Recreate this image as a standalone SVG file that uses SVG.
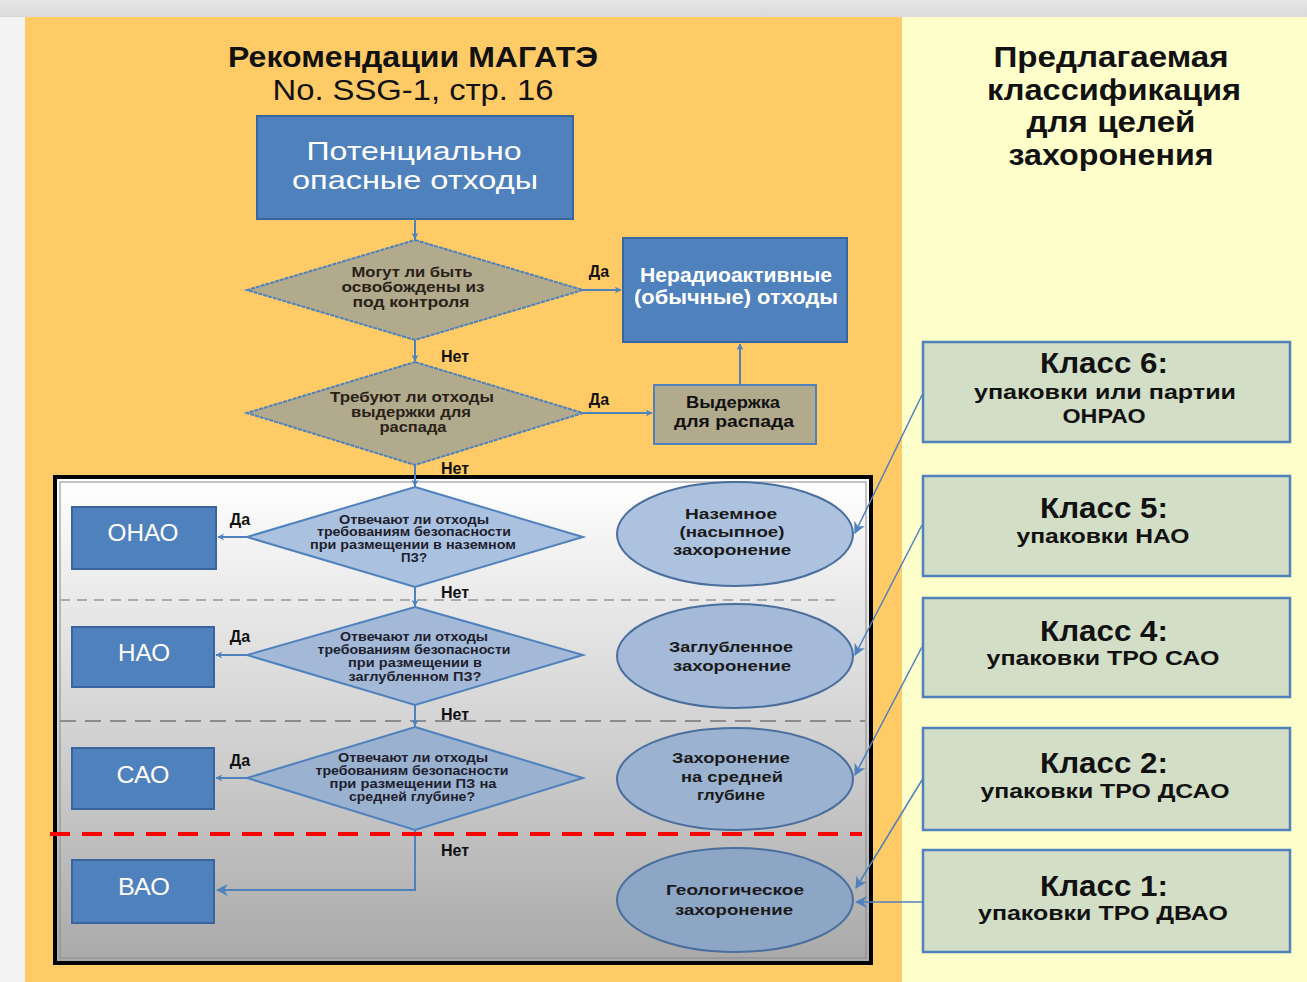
<svg xmlns="http://www.w3.org/2000/svg" width="1307" height="982" viewBox="0 0 1307 982">
<defs>
<style>
text{font-family:"Liberation Sans","DejaVu Sans",sans-serif;text-anchor:middle}
.title{font-size:30px;font-weight:bold;fill:#111}
.titler{font-size:30px;fill:#111}
.bw{fill:#fff}
.blue{fill:#4F81BD;stroke:#3A64A0;stroke-width:2}
.kh{fill:#B1AA8C;stroke:#4F81BD;stroke-width:2}
.q1{font-size:14px;font-weight:bold;fill:#2a2218}
.q{font-size:12.5px;font-weight:bold;fill:#1e1e2e}
.lab{font-size:16px;font-weight:bold;fill:#111}
.ell{stroke:#4A6E9E;stroke-width:2}
.et{font-size:15.5px;font-weight:bold;fill:#1a1a1a}
.cls{fill:#D3DEC6;stroke:#4F81BD;stroke-width:2.5}
.ch{font-size:29px;font-weight:bold;fill:#111}
.cs{font-size:20px;font-weight:bold;fill:#111}
.con{stroke:#4F81BD;stroke-width:2;fill:none}
.cl{stroke:#4F81BD;stroke-width:1.5;fill:none}
</style>
<marker id="ah" viewBox="0 0 10 10" refX="9" refY="5" markerWidth="7" markerHeight="7" orient="auto" markerUnits="userSpaceOnUse">
<path d="M0,0 L10,5 L0,10 L3,5 z" fill="#4F81BD"/>
</marker>
<marker id="ah2" viewBox="0 0 10 10" refX="9" refY="5" markerWidth="12" markerHeight="12" orient="auto" markerUnits="userSpaceOnUse">
<path d="M0,0 L10,5 L0,10 L3,5 z" fill="#4F81BD"/>
</marker>
<linearGradient id="boxg" x1="0" y1="0" x2="0" y2="1">
<stop offset="0" stop-color="#FFFFFF"/>
<stop offset="1" stop-color="#A9A9A9"/>
</linearGradient>
<linearGradient id="topg" x1="0" y1="0" x2="0" y2="1">
<stop offset="0" stop-color="#E6E6E6"/>
<stop offset="1" stop-color="#DADADA"/>
</linearGradient>
</defs>

<g id="background">
<rect x="0" y="0" width="1307" height="982" fill="#F4F4F4"/>
<rect x="0" y="0" width="1307" height="17" fill="url(#topg)"/>
<rect x="25" y="17" width="877" height="965" fill="#FECB66"/>
<rect x="902" y="17" width="405" height="965" fill="#FFFFCC"/>
</g>

<g id="titles">
<text class="title" x="413" y="67" textLength="370" lengthAdjust="spacingAndGlyphs">Рекомендации МАГАТЭ</text>
<text class="titler" x="413" y="100" textLength="281" lengthAdjust="spacingAndGlyphs">No. SSG-1, стр. 16</text>
<text class="title" x="1111" y="67" textLength="235" lengthAdjust="spacingAndGlyphs">Предлагаемая</text>
<text class="title" x="1114" y="100" textLength="254" lengthAdjust="spacingAndGlyphs">классификация</text>
<text class="title" x="1111" y="132" textLength="169" lengthAdjust="spacingAndGlyphs">для целей</text>
<text class="title" x="1111" y="165" textLength="205" lengthAdjust="spacingAndGlyphs">захоронения</text>
</g>

<g id="main-box">
<rect x="55" y="477" width="816" height="486" fill="url(#boxg)" stroke="#000" stroke-width="4"/>
<rect x="60" y="482" width="806" height="476" fill="none" stroke="#8A8A8A" stroke-width="1"/>
</g>

<g id="separators">
<line x1="60" y1="600" x2="835" y2="600" stroke="#ABABAB" stroke-width="2" stroke-dasharray="10 7"/>
<line x1="60" y1="721" x2="865" y2="721" stroke="#8C8C8C" stroke-width="2" stroke-dasharray="16 9"/>
</g>

<g id="n-potential">
<rect class="blue" x="257" y="116" width="316" height="103"/>
<text class="bw" x="414" y="160" font-size="26" textLength="215" lengthAdjust="spacingAndGlyphs">Потенциально</text>
<text class="bw" x="415" y="189" font-size="26" textLength="246" lengthAdjust="spacingAndGlyphs">опасные отходы</text>
</g>

<g id="n-q1">
<polygon class="kh" points="415,240 583,290 415,340 247,290" stroke-dasharray="4 1"/>
<text class="q1" x="412" y="277" textLength="121" lengthAdjust="spacingAndGlyphs">Могут ли быть</text>
<text class="q1" x="413" y="292" textLength="143" lengthAdjust="spacingAndGlyphs">освобождены из</text>
<text class="q1" x="411" y="307" textLength="117" lengthAdjust="spacingAndGlyphs">под контроля</text>
</g>

<g id="n-nonrad">
<rect class="blue" x="623" y="238" width="224" height="104"/>
<text class="bw" x="736" y="282" font-size="20" font-weight="bold" textLength="192" lengthAdjust="spacingAndGlyphs">Нерадиоактивные</text>
<text class="bw" x="736" y="304" font-size="20" font-weight="bold" textLength="204" lengthAdjust="spacingAndGlyphs">(обычные) отходы</text>
</g>

<g id="n-q2">
<polygon class="kh" points="415,362 583,413 415,465 247,413" stroke-dasharray="4 1"/>
<text class="q1" x="412" y="402" textLength="164" lengthAdjust="spacingAndGlyphs">Требуют ли отходы</text>
<text class="q1" x="411" y="417" textLength="120" lengthAdjust="spacingAndGlyphs">выдержки для</text>
<text class="q1" x="413" y="432" textLength="67" lengthAdjust="spacingAndGlyphs">распада</text>
</g>

<g id="n-decay">
<rect class="kh" x="654" y="385" width="162" height="59"/>
<text x="733" y="408" font-size="16" font-weight="bold" fill="#111" textLength="94" lengthAdjust="spacingAndGlyphs">Выдержка</text>
<text x="734" y="427" font-size="16" font-weight="bold" fill="#111" textLength="120" lengthAdjust="spacingAndGlyphs">для  распада</text>
</g>

<g id="n-q3">
<polygon points="415,487 583,537 415,587 247,537" fill="#AAC1DF" stroke="#4F81BD" stroke-width="2"/>
<text class="q" x="414" y="524" textLength="150" lengthAdjust="spacingAndGlyphs">Отвечают  ли отходы</text>
<text class="q" x="414" y="536" textLength="194" lengthAdjust="spacingAndGlyphs">требованиям  безопасности</text>
<text class="q" x="413" y="549" textLength="206" lengthAdjust="spacingAndGlyphs">при размещении  в наземном</text>
<text class="q" x="414" y="562" textLength="26" lengthAdjust="spacingAndGlyphs">ПЗ?</text>
</g>

<g id="n-q4">
<polygon points="415,607 583,655 415,705 247,655" fill="#A3B9D7" stroke="#4F81BD" stroke-width="2"/>
<text class="q" x="414" y="641" textLength="148" lengthAdjust="spacingAndGlyphs">Отвечают  ли отходы</text>
<text class="q" x="414" y="654" textLength="193" lengthAdjust="spacingAndGlyphs">требованиям  безопасности</text>
<text class="q" x="415" y="667" textLength="134" lengthAdjust="spacingAndGlyphs">при размещении  в</text>
<text class="q" x="415" y="681" textLength="133" lengthAdjust="spacingAndGlyphs">заглубленном  ПЗ?</text>
</g>

<g id="n-q5">
<polygon points="415,727 583,778 415,830 247,778" fill="#9AB1CF" stroke="#4F81BD" stroke-width="2"/>
<text class="q" x="413" y="762" textLength="150" lengthAdjust="spacingAndGlyphs">Отвечают  ли отходы</text>
<text class="q" x="412" y="775" textLength="193" lengthAdjust="spacingAndGlyphs">требованиям  безопасности</text>
<text class="q" x="413" y="788" textLength="167" lengthAdjust="spacingAndGlyphs">при размещении  ПЗ на</text>
<text class="q" x="412" y="801" textLength="126" lengthAdjust="spacingAndGlyphs">средней  глубине?</text>
</g>

<g id="n-onao">
<rect class="blue" x="72" y="507" width="144" height="62"/>
<text class="bw" x="143" y="541" font-size="24" textLength="71" lengthAdjust="spacingAndGlyphs">ОНАО</text>
</g>
<g id="n-nao">
<rect class="blue" x="72" y="627" width="142" height="60"/>
<text class="bw" x="144" y="661" font-size="24" textLength="52" lengthAdjust="spacingAndGlyphs">НАО</text>
</g>
<g id="n-sao">
<rect class="blue" x="72" y="748" width="142" height="61"/>
<text class="bw" x="143" y="783" font-size="24" textLength="53" lengthAdjust="spacingAndGlyphs">САО</text>
</g>
<g id="n-vao">
<rect class="blue" x="72" y="860" width="142" height="63"/>
<text class="bw" x="144" y="895" font-size="24" textLength="52" lengthAdjust="spacingAndGlyphs">ВАО</text>
</g>

<g id="n-e1">
<ellipse class="ell" cx="735" cy="534" rx="118" ry="52" fill="#ADC2DF"/>
<text class="et" x="731" y="519" textLength="92" lengthAdjust="spacingAndGlyphs">Наземное</text>
<text class="et" x="732" y="537" textLength="105" lengthAdjust="spacingAndGlyphs">(насыпное)</text>
<text class="et" x="732" y="555" textLength="118" lengthAdjust="spacingAndGlyphs">захоронение</text>
</g>
<g id="n-e2">
<ellipse class="ell" cx="735" cy="656" rx="118" ry="52" fill="#A4BAD8"/>
<text class="et" x="731" y="652" textLength="124" lengthAdjust="spacingAndGlyphs">Заглубленное</text>
<text class="et" x="732" y="671" textLength="118" lengthAdjust="spacingAndGlyphs">захоронение</text>
</g>
<g id="n-e3">
<ellipse class="ell" cx="735" cy="779" rx="118" ry="51" fill="#9BB2D0"/>
<text class="et" x="731" y="763" textLength="118" lengthAdjust="spacingAndGlyphs">Захоронение</text>
<text class="et" x="732" y="782" textLength="102" lengthAdjust="spacingAndGlyphs">на  средней</text>
<text class="et" x="731" y="800" textLength="68" lengthAdjust="spacingAndGlyphs">глубине</text>
</g>
<g id="n-e4">
<ellipse class="ell" cx="735" cy="900" rx="118" ry="52" fill="#8EA6C5"/>
<text class="et" x="735" y="895" textLength="138" lengthAdjust="spacingAndGlyphs">Геологическое</text>
<text class="et" x="734" y="915" textLength="118" lengthAdjust="spacingAndGlyphs">захоронение</text>
</g>

<g id="n-class6">
<rect class="cls" x="923" y="342" width="367" height="100"/>
<text class="ch" x="1104" y="373" textLength="128" lengthAdjust="spacingAndGlyphs">Класс 6:</text>
<text class="cs" x="1105" y="399" textLength="262" lengthAdjust="spacingAndGlyphs">упаковки или партии</text>
<text class="cs" x="1104" y="423" textLength="83" lengthAdjust="spacingAndGlyphs">ОНРАО</text>
</g>
<g id="n-class5">
<rect class="cls" x="923" y="476" width="367" height="100"/>
<text class="ch" x="1104" y="518" textLength="128" lengthAdjust="spacingAndGlyphs">Класс 5:</text>
<text class="cs" x="1103" y="543" textLength="173" lengthAdjust="spacingAndGlyphs">упаковки НАО</text>
</g>
<g id="n-class4">
<rect class="cls" x="923" y="598" width="367" height="99"/>
<text class="ch" x="1104" y="641" textLength="128" lengthAdjust="spacingAndGlyphs">Класс 4:</text>
<text class="cs" x="1103" y="665" textLength="233" lengthAdjust="spacingAndGlyphs">упаковки ТРО  САО</text>
</g>
<g id="n-class2">
<rect class="cls" x="923" y="728" width="367" height="102"/>
<text class="ch" x="1104" y="773" textLength="128" lengthAdjust="spacingAndGlyphs">Класс 2:</text>
<text class="cs" x="1105" y="798" textLength="249" lengthAdjust="spacingAndGlyphs">упаковки ТРО  ДСАО</text>
</g>
<g id="n-class1">
<rect class="cls" x="923" y="850" width="367" height="102"/>
<text class="ch" x="1104" y="896" textLength="128" lengthAdjust="spacingAndGlyphs">Класс 1:</text>
<text class="cs" x="1103" y="920" textLength="250" lengthAdjust="spacingAndGlyphs">упаковки ТРО  ДВАО</text>
</g>

<g id="connectors">
<line class="con" x1="415" y1="219" x2="415" y2="239" marker-end="url(#ah)"/>
<line class="con" x1="583" y1="290" x2="621" y2="290" marker-end="url(#ah)"/>
<line class="con" x1="415" y1="340" x2="415" y2="361" marker-end="url(#ah)"/>
<line class="con" x1="583" y1="413" x2="652" y2="413" marker-end="url(#ah)"/>
<line class="con" x1="740" y1="385" x2="740" y2="344" marker-end="url(#ah)"/>
<line class="con" x1="415" y1="465" x2="415" y2="486" marker-end="url(#ah)"/>
<line class="con" x1="247" y1="537" x2="218" y2="537" marker-end="url(#ah)"/>
<line class="con" x1="415" y1="587" x2="415" y2="606" marker-end="url(#ah)"/>
<line class="con" x1="247" y1="655" x2="216" y2="655" marker-end="url(#ah)"/>
<line class="con" x1="415" y1="705" x2="415" y2="726" marker-end="url(#ah)"/>
<line class="con" x1="247" y1="778" x2="216" y2="778" marker-end="url(#ah)"/>
<polyline class="con" points="415,830 415,890 217,890" stroke="#6E95C8" stroke-width="2.5" marker-end="url(#ah2)"/>
<line class="cl" x1="922" y1="395" x2="855" y2="533" marker-end="url(#ah2)"/>
<line class="cl" x1="922" y1="525" x2="855" y2="655" marker-end="url(#ah2)"/>
<line class="cl" x1="922" y1="647" x2="855" y2="775" marker-end="url(#ah2)"/>
<line class="cl" x1="922" y1="780" x2="856" y2="888" marker-end="url(#ah2)"/>
<line class="cl" x1="922" y1="902" x2="856" y2="902" marker-end="url(#ah2)"/>
</g>

<g id="labels">
<text class="lab" x="599" y="277">Да</text>
<text class="lab" x="599" y="405">Да</text>
<text class="lab" x="240" y="525">Да</text>
<text class="lab" x="240" y="642">Да</text>
<text class="lab" x="240" y="766">Да</text>
<text class="lab" x="455" y="362">Нет</text>
<text class="lab" x="455" y="474">Нет</text>
<text class="lab" x="455" y="598">Нет</text>
<text class="lab" x="455" y="720">Нет</text>
<text class="lab" x="455" y="856">Нет</text>
</g>

<g id="red-line">
<line x1="50" y1="834" x2="862" y2="834" stroke="#FF0000" stroke-width="4" stroke-dasharray="20 12"/>
</g>
</svg>
